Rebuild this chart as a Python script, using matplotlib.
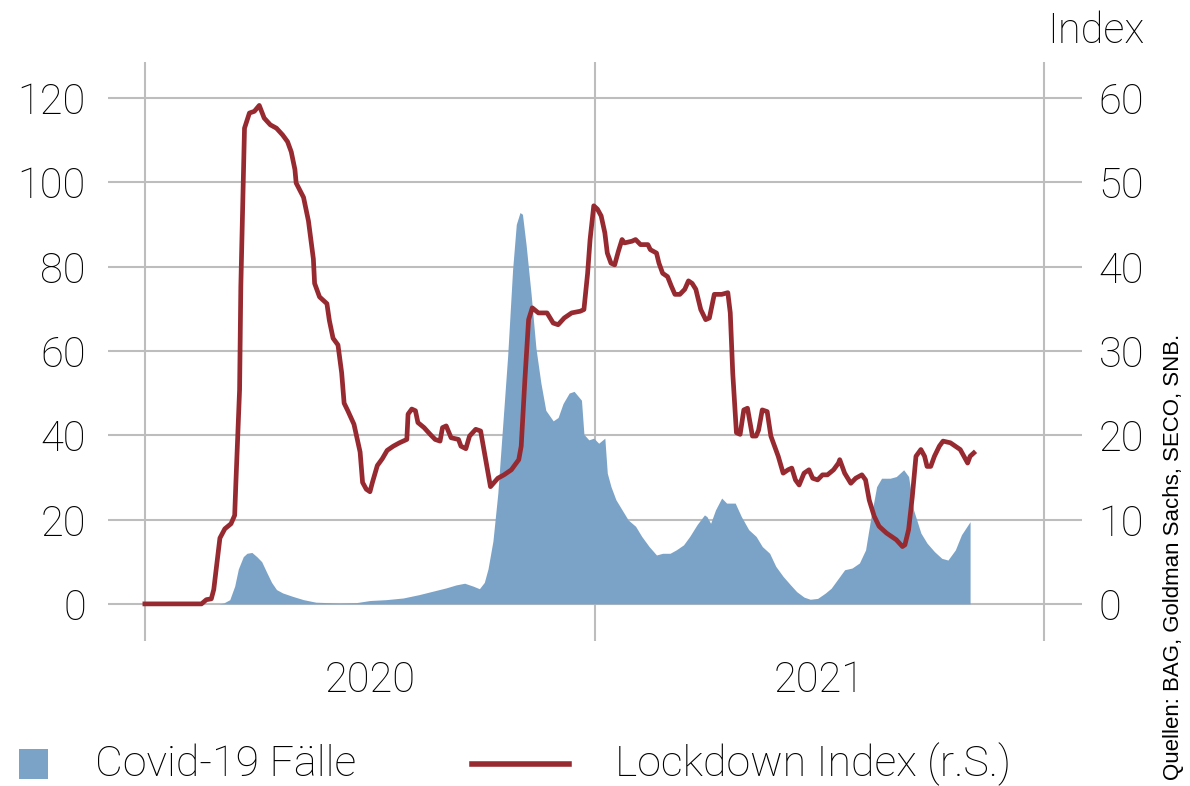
import numpy as np
import pandas as pd
import matplotlib
matplotlib.use("Agg")
import matplotlib.pyplot as plt
import matplotlib.dates as mdates
from matplotlib.patches import Rectangle
from matplotlib.lines import Line2D

# days counted from 2020-01-01
covid_day = [0, 60, 64, 69, 73, 76, 80, 83, 87, 91, 95, 99, 103, 107, 112, 120, 129, 139,
             158, 172, 183, 196, 210, 223, 234, 245, 253, 260, 267, 272, 276, 279, 283,
             287, 291, 295, 299, 302, 305, 307, 310, 314, 318, 322, 326, 332, 336, 340,
             345, 349, 355, 357, 361, 365, 369, 374, 376, 379, 383, 388, 393, 399, 404,
             410, 416, 421, 427, 432, 438, 443, 449, 455, 457, 460, 464, 469, 473, 480,
             485, 491, 497, 502, 508, 513, 519, 525, 530, 536, 541, 547, 553, 558, 564,
             569, 575, 581, 586, 590, 595, 599, 606, 611, 617, 621, 625, 631, 636, 642,
             648, 653, 659, 664, 671]
covid_val = [0, 0, 0.2, 1.0, 4.2, 8.3, 11.2, 12.0, 12.2, 11.2, 10.0, 7.5, 5.1, 3.4, 2.6, 1.8,
             1.0, 0.4, 0.2, 0.3, 0.8, 1.0, 1.4, 2.2, 3.0, 3.8, 4.5, 4.9, 4.2, 3.6, 5.1, 8.3,
             14.9, 26.3, 42.6, 58.9, 79.3, 90.0, 92.8, 92.4, 85.1, 73.6, 60.6, 52.4, 45.9,
             43.4, 44.2, 47.5, 50.0, 50.4, 48.3, 40.2, 38.9, 39.3, 38.1, 39.3, 31.0, 27.8,
             24.7, 22.3, 19.9, 18.4, 16.0, 13.6, 11.6, 12.0, 12.0, 12.8, 14.0, 16.0, 18.8,
             21.1, 20.7, 19.1, 22.3, 25.1, 23.9, 23.9, 20.7, 17.6, 16.0, 13.6, 12.0, 8.9,
             6.5, 4.5, 2.9, 1.6, 1.1, 1.3, 2.5, 3.7, 6.1, 8.1, 8.5, 9.7, 12.8, 19.9, 27.8,
             29.8, 29.8, 30.2, 31.8, 30.2, 22.3, 16.8, 14.4, 12.4, 10.8, 10.4, 12.8, 16.4,
             19.5]

lock_day = [0, 46, 50, 54, 56, 61, 65, 70, 73, 74, 77, 78, 81, 85, 89, 93, 97, 102, 107,
            112, 116, 119, 122, 123, 129, 133, 137, 138, 142, 148, 150, 153, 157, 160, 162,
            165, 170, 175, 177, 180, 183, 185, 189, 193, 197, 202, 207, 213, 214, 217, 220,
            222, 227, 232, 236, 240, 242, 245, 249, 255, 257, 261, 264, 269, 273, 277, 281,
            287, 292, 298, 304, 306, 309, 312, 315, 320, 327, 332, 336, 341, 347, 354, 357,
            360, 362, 365, 368, 371, 374, 376, 379, 382, 385, 388, 390, 396, 399, 403, 409,
            411, 416, 418, 421, 425, 428, 431, 435, 439, 442, 445, 448, 450, 452, 456, 459,
            463, 469, 474, 476, 478, 480, 481, 484, 487, 490, 494, 497, 499, 502, 506, 509,
            512, 515, 519, 523, 526, 529, 532, 536, 540, 543, 547, 551, 555, 560, 564, 565,
            569, 574, 578, 583, 586, 589, 593, 597, 603, 611, 616, 618, 621, 624, 627, 631,
            634, 636, 639, 642, 646, 649, 655, 659, 663, 666, 669, 671, 674]
lock_val = [0, 0, 0.5, 0.6, 1.7, 7.8, 8.9, 9.5, 10.5, 14.4, 25.4, 37.6, 56.4, 58.2, 58.4,
            59.1, 57.6, 56.8, 56.4, 55.6, 54.8, 53.6, 51.5, 49.9, 48.2, 45.4, 40.9, 38.0,
            36.4, 35.6, 33.6, 31.5, 30.7, 27.4, 23.8, 22.9, 21.3, 18.0, 14.4, 13.6, 13.3,
            14.4, 16.4, 17.2, 18.2, 18.7, 19.1, 19.5, 22.5, 23.1, 22.9, 21.5, 20.9, 20.1,
            19.5, 19.3, 20.9, 21.1, 19.7, 19.5, 18.7, 18.4, 19.9, 20.7, 20.5, 17.2, 13.9,
            14.9, 15.3, 15.9, 17.1, 18.7, 26.6, 33.7, 35.1, 34.5, 34.5, 33.3, 33.1, 33.9,
            34.5, 34.7, 34.9, 39.2, 43.2, 47.2, 46.8, 46.0, 44.0, 41.6, 40.4, 40.2, 41.8,
            43.2, 42.8, 43.0, 43.2, 42.6, 42.6, 42.0, 41.6, 40.4, 39.2, 38.8, 37.7, 36.7,
            36.7, 37.3, 38.3, 38.0, 37.3, 36.1, 34.9, 33.7, 33.9, 36.7, 36.7, 36.9, 34.5,
            27.4, 22.6, 20.3, 20.1, 23.0, 23.2, 19.9, 19.9, 20.6, 23.0, 22.8, 19.9, 18.7,
            17.5, 15.5, 15.9, 16.1, 14.7, 14.1, 15.5, 15.9, 14.9, 14.7, 15.3, 15.3, 15.9,
            16.7, 17.1, 15.5, 14.3, 14.9, 15.3, 14.7, 12.3, 10.4, 9.2, 8.4, 7.6, 6.8, 7.0,
            8.8, 12.7, 17.5, 18.3, 17.5, 16.3, 16.3, 17.5, 18.7, 19.3, 19.1, 18.7, 18.3,
            17.5, 16.7, 17.5, 17.9]

left_ticks = [0, 20, 40, 60, 80, 100, 120]
right_ticks = [0, 10, 20, 30, 40, 50, 60]
year_labels = ["2020", "2021"]

start = pd.Timestamp("2020-01-01")
covid_dates = start + pd.to_timedelta(covid_day, unit="D")
lock_dates = start + pd.to_timedelta(lock_day, unit="D")

plt.rcParams["font.family"] = ["Roboto", "DejaVu Sans"]
plt.rcParams["font.weight"] = "light"

blue = "#7ba3c7"
red = "#962a30"
grid = "#bdbdbd"

fig = plt.figure(figsize=(11.9, 7.86), dpi=100)
ax = fig.add_axes([108 / 1190, 145 / 786, 974 / 1190, 579 / 786])

ax.fill_between(covid_dates, covid_val, 0, color=blue, linewidth=0, zorder=3)
ax.set_ylim(-8.8, 128.5)
ax.set_xlim(pd.Timestamp("2019-12-02"), pd.Timestamp("2022-02-01"))
ax.set_yticks(left_ticks)

ax.xaxis.set_major_locator(mdates.YearLocator())
ax.xaxis.set_major_formatter(plt.NullFormatter())
ax.set_xticks([pd.Timestamp("2020-07-02"), pd.Timestamp("2021-07-02")], minor=True)
ax.set_xticklabels(year_labels, minor=True)

ax.grid(True, axis="both", which="major", color=grid, linewidth=1.5, zorder=0)
ax.set_axisbelow(True)
ax.tick_params(axis="y", length=0, pad=16, labelsize=30)
ax.tick_params(axis="x", which="both", length=0, pad=14, labelsize=30)
for s in ax.spines.values():
    s.set_visible(False)

ax2 = ax.twinx()
ax2.plot(lock_dates, lock_val, color=red, linewidth=3.4, zorder=4)
ax2.set_ylim(-4.4, 64.25)
ax2.set_yticks(right_ticks)
ax2.tick_params(axis="y", length=0, pad=12, labelsize=30)
for s in ax2.spines.values():
    s.set_visible(False)

fig.text(1096 / 1190, 1 - 43 / 786, "Index", ha="center", va="baseline", fontsize=30)

# legend
fig.add_artist(Rectangle((19 / 1190, 1 - 779 / 786), 29 / 1190, 30 / 786,
                         transform=fig.transFigure, color=blue, linewidth=0))
fig.text(95 / 1190, 1 - 776 / 786, "Covid-19 Fälle", ha="left", va="baseline", fontsize=31)
fig.add_artist(Line2D([472 / 1190, 569 / 1190], [1 - 764 / 786, 1 - 764 / 786],
                      transform=fig.transFigure, color=red, linewidth=4))
fig.text(615 / 1190, 1 - 776 / 786, "Lockdown Index (r.S.)", ha="left", va="baseline",
         fontsize=31)

fig.text(1173 / 1190, 1 - 334 / 786, "Quellen: BAG, Goldman Sachs, SECO, SNB.",
         rotation=90, ha="center", va="top", fontsize=16, family="Liberation Sans",
         fontweight="normal")

fig.savefig("out.png", dpi=100)
